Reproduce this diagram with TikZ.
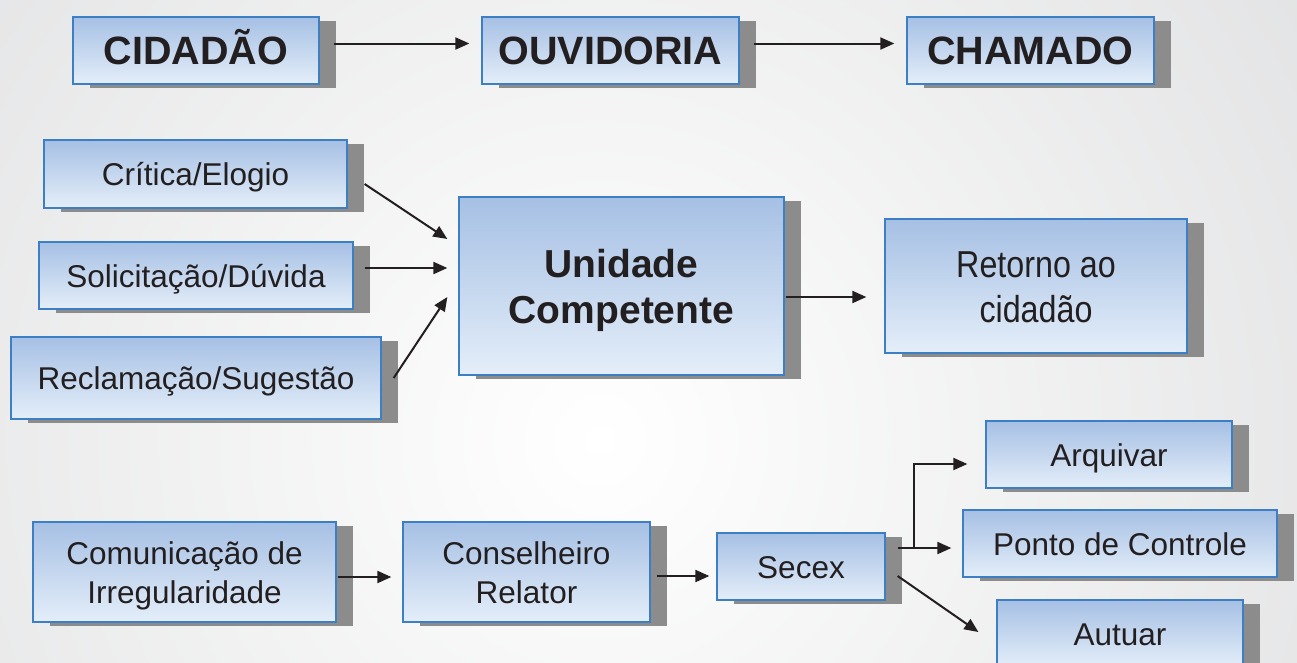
\documentclass[tikz,border=0pt]{standalone}
\usepackage{fontspec}
\setmainfont{Liberation Sans}
\usetikzlibrary{arrows.meta,shadows}
\definecolor{texto}{RGB}{35,31,32}
\definecolor{borda}{RGB}{61,127,196}
\definecolor{azulescuro}{RGB}{166,192,228}
\definecolor{azulmeio}{RGB}{188,207,235}
\definecolor{azulclaro}{RGB}{228,238,249}
\definecolor{fundo}{RGB}{208,209,211}

\begin{document}
\begin{tikzpicture}[x=1pt, y=-1pt]
		\tikzstyle{caixa} = [rectangle, draw=borda, line width=1.3pt, top color=azulescuro, middle color=azulmeio, bottom color=azulclaro, text=texto, align=center, inner sep=0pt, text height=23pt, text depth=0pt, font=\fontsize{31.5}{39}\selectfont, drop shadow={shadow xshift=17pt, shadow yshift=-4pt, fill=black!45, opacity=1}]
		\tikzstyle{titulo} = [caixa, text height=28pt, font=\fontsize{39.5}{46}\selectfont\bfseries]
		\tikzstyle{seta} = [-{Triangle[length=14pt,width=12pt]}, line width=2pt, draw=texto]
		\useasboundingbox (0,0) rectangle (1297,662);
		\begin{scope}
			\clip (0,0) rectangle (1297,662);
			\shade [inner color=white, outer color=fundo] (600,440) circle (1400);
		\end{scope}
		% linha de cima
		\node [titulo, minimum width=246, minimum height=67] (cidadao) at (196,50.5) {CIDADÃO};
		\node [titulo, minimum width=257, minimum height=67] (ouvidoria) at (610.5,50.5) {OUVIDORIA};
		\node [titulo, minimum width=247, minimum height=67] (chamado) at (1030.5,50.5) {CHAMADO};
		\foreach \from/\to in {cidadao/ouvidoria, ouvidoria/chamado}
		\draw [seta] ([xshift=14pt,yshift=7pt]\from.east) -- ([xshift=-12pt,yshift=7pt]\to.west);
		% tipos de manifestacao
		\node [caixa, minimum width=303, minimum height=68] (critica) at (195.5,174) {Crítica/Elogio};
		\node [caixa, minimum width=314, minimum height=67] (solicitacao) at (196,275.5) {Solicitação/Dúvida};
		\node [caixa, minimum width=370, minimum height=82] (reclamacao) at (196,378) {Reclamação/Sugestão};
		\node [titulo, text height=74pt, font=\fontsize{39}{46}\selectfont\bfseries, minimum width=325, minimum height=178] (unidade) at (621.5,286) {Unidade\\Competente};
		\node [caixa, text height=72pt, font=\fontsize{37.5}{45}\selectfont\addfontfeature{FakeStretch=0.86}, minimum width=302, minimum height=134] (retorno) at (1036,286) {Retorno ao\\cidadão};
		\draw [seta] ([xshift=17pt,yshift=-10pt]critica.east) -- ([xshift=-11pt,yshift=47pt]unidade.west);
		\draw [seta] ([xshift=11pt,yshift=7.5pt]solicitacao.east) -- ([xshift=-11pt,yshift=18pt]unidade.west);
		\draw [seta] ([xshift=12pt]reclamacao.east) -- ([xshift=-11pt,yshift=-11pt]unidade.west);
		\draw [seta] ([xshift=1pt,yshift=-11pt]unidade.east) -- ([xshift=-18pt,yshift=-11pt]retorno.west);
		% irregularidade
		\node [caixa, text height=62pt, minimum width=303, minimum height=100] (comunicacao) at (184.5,572) {Comunicação de\\Irregularidade};
		\node [caixa, text height=62pt, minimum width=247, minimum height=100] (conselheiro) at (526.5,572) {Conselheiro\\Relator};
		\node [caixa, minimum width=168, minimum height=67] (secex) at (801,566.5) {Secex};
		\node [caixa, minimum width=246, minimum height=67] (arquivar) at (1109,454.5) {Arquivar};
		\node [caixa, minimum width=314, minimum height=67] (ponto) at (1120,543.5) {Ponto de Controle};
		\node [caixa, minimum width=246, minimum height=67] (autuar) at (1120,633.5) {Autuar};
		\draw [seta] ([xshift=1pt,yshift=-5pt]comunicacao.east) -- ([xshift=-11pt,yshift=-5pt]conselheiro.west);
		\draw [seta] ([xshift=6pt,yshift=-4pt]conselheiro.east) -- ([xshift=-7pt,yshift=-9.5pt]secex.west);
		\coordinate (ramo) at ([xshift=28pt,yshift=18.5pt]secex.east);
		\draw [seta] ([xshift=12pt,yshift=18.5pt]secex.east) -- ([xshift=-11pt,yshift=-4.5pt]ponto.west);
		\draw [seta] (ramo) |- ([xshift=-18pt,yshift=-9.5pt]arquivar.west);
		\draw [seta] ([xshift=12pt,yshift=-9.5pt]secex.east) -- ([xshift=-18pt,yshift=1.5pt]autuar.west);
	\end{tikzpicture}
\end{document}
